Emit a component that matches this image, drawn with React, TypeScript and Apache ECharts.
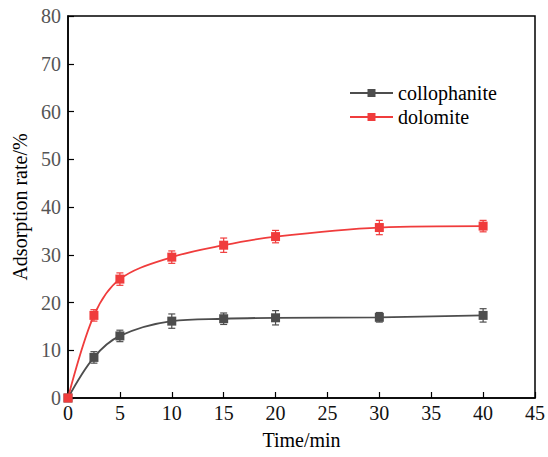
import React, { useEffect, useRef } from "react";
import * as echarts from "echarts";

const times = [0, 2.5, 5, 10, 15, 20, 30, 40];
const collophanite = [0, 8.5, 13, 16.1, 16.6, 16.8, 16.9, 17.3];
const collophaniteErr = [0, 1.2, 1.2, 1.5, 1.2, 1.5, 1.0, 1.4];
const dolomite = [0, 17.3, 24.9, 29.5, 32, 33.8, 35.7, 36];
const dolomiteErr = [0, 1.2, 1.3, 1.3, 1.5, 1.3, 1.5, 1.2];
const xTicks = [0, 5, 10, 15, 20, 25, 30, 35, 40, 45];
const yTicks = [0, 10, 20, 30, 40, 50, 60, 70, 80];

const GRAY = "#4d4d4d";
const RED = "#f03c3c";
const FONT = "'Liberation Serif', serif";

function errSeries(name: string, vals: number[], errs: number[], color: string) {
  const data = times.map((t, i) => [t, vals[i] - errs[i], vals[i] + errs[i]]);
  return {
    type: "custom",
    name: name + "-err",
    z: 3,
    data,
    renderItem: (params: any, api: any) => {
      const x = api.value(0);
      const lo = api.coord([x, api.value(1)]);
      const hi = api.coord([x, api.value(2)]);
      const w = 3.5;
      const style = { stroke: color, lineWidth: 1.2, fill: "none" };
      return {
        type: "group",
        children: [
          { type: "line", shape: { x1: lo[0], y1: lo[1], x2: hi[0], y2: hi[1] }, style },
          { type: "line", shape: { x1: lo[0] - w, y1: lo[1], x2: lo[0] + w, y2: lo[1] }, style },
          { type: "line", shape: { x1: hi[0] - w, y1: hi[1], x2: hi[0] + w, y2: hi[1] }, style },
        ],
      };
    },
  };
}

export default function App() {
  const ref = useRef<HTMLDivElement>(null);
  useEffect(() => {
    document.body.style.margin = "0";
    document.body.style.overflow = "hidden";
    const chart = echarts.init(ref.current!, null, { renderer: "svg" });
    chart.setOption({
      animation: false,
      backgroundColor: "#fff",
      textStyle: { fontFamily: FONT },
      grid: {
        left: 68,
        top: 16,
        right: 9,
        bottom: 59,
        show: true,
        borderColor: "#000",
        borderWidth: 1.5,
      },
      legend: {
        left: 344,
        top: 78,
        orient: "vertical",
        itemWidth: 43,
        itemHeight: 10,
        itemGap: 4,
        textStyle: { fontFamily: FONT, fontSize: 20, color: "#000" },
        data: ["collophanite", "dolomite"],
      },
      xAxis: {
        type: "value",
        min: 0,
        max: 45,
        interval: 5,
        name: "Time/min",
        nameLocation: "middle",
        nameGap: 32,
        nameTextStyle: { fontFamily: FONT, fontSize: 20, color: "#000" },
        axisLine: { lineStyle: { color: "#000", width: 1.5 } },
        axisTick: { inside: true, length: 6, lineStyle: { color: "#000", width: 1.2 } },
        axisLabel: { fontFamily: FONT, fontSize: 20, color: "#111", margin: 5 },
        splitLine: { show: false },
      },
      yAxis: {
        type: "value",
        min: 0,
        max: 80,
        interval: 10,
        name: "Adsorption rate/%",
        nameLocation: "middle",
        nameGap: 37,
        nameTextStyle: { fontFamily: FONT, fontSize: 20, color: "#000" },
        axisLine: { lineStyle: { color: "#000", width: 1.5 } },
        axisTick: { inside: true, length: 6, lineStyle: { color: "#000", width: 1.2 } },
        axisLabel: { fontFamily: FONT, fontSize: 20, color: "#555", margin: 7 },
        splitLine: { show: false },
      },
      series: [
        errSeries("collophanite", collophanite, collophaniteErr, GRAY),
        errSeries("dolomite", dolomite, dolomiteErr, RED),
        {
          name: "collophanite",
          type: "line",
          smooth: 0.35,
          z: 4,
          data: times.map((t, i) => [t, collophanite[i]]),
          symbol: "rect",
          symbolSize: 9,
          itemStyle: { color: GRAY },
          lineStyle: { color: GRAY, width: 1.8 },
        },
        {
          name: "dolomite",
          type: "line",
          smooth: 0.35,
          z: 4,
          data: times.map((t, i) => [t, dolomite[i]]),
          symbol: "rect",
          symbolSize: 9,
          itemStyle: { color: RED },
          lineStyle: { color: RED, width: 1.8 },
        },
      ],
    });
    return () => chart.dispose();
  }, []);
  return <div ref={ref} style={{ width: 548, height: 457 }} />;
}
